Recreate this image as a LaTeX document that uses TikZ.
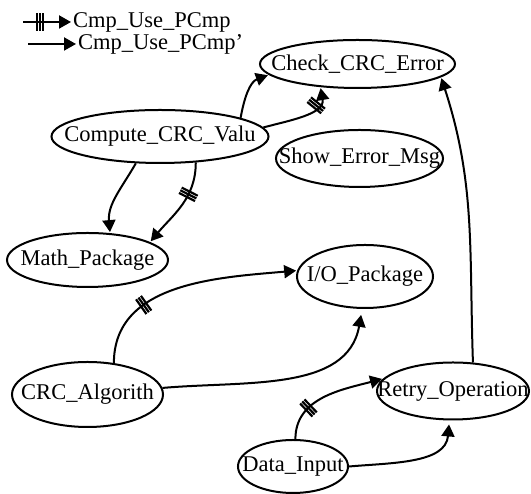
\documentclass[tikz,border=0pt]{standalone}
\usepackage{fontspec}
\setmainfont{Liberation Serif}
\usetikzlibrary{shapes.geometric,arrows.meta,decorations.markings}

\tikzset{
  module/.style={ellipse, draw, line width=2pt, inner sep=0pt},
  every label/.style={inner sep=0pt, font=\fontsize{22.5}{25}\selectfont},
  legend/.style={inner sep=1pt, font=\fontsize{22.5}{25}\selectfont},
  uses/.style={line width=2pt, -{Triangle[length=12pt,width=13pt]}, shorten >=1pt},
  ticked/.style={postaction={decorate, decoration={markings,
    mark=at position #1 with {\foreach \k in {-3,0,3} \draw[-, shorten >=0pt, line width=2.2pt] (\k pt,-9pt) -- (\k pt,9pt);}}}}
}

\begin{document}
\begin{tikzpicture}[x=1pt,y=1pt]

    \useasboundingbox (0,0) rectangle (531,494);

    % legend
    \coordinate (l1s) at (23,472);
    \node (l1) [legend, anchor=west] at (72,472) {Cmp\_Use\_PCmp};
    \coordinate (l2s) at (28,450);
    \node (l2) [legend, anchor=west] at (77,450) {Cmp\_Use\_PCmp'};
    \draw [uses, ticked=0.35] (l1s) -- (l1.west);
    \draw [uses] (l2s) -- (l2.west);

    % modules
    \node (chk) [module, minimum width=195, minimum height=48, label=center:Check\_CRC\_Error] at (357.5,430) {};
    \node (cv) [module, minimum width=217, minimum height=53, label=center:Compute\_CRC\_Valu] at (160,357.5) {};
    \node (sem) [module, minimum width=167, minimum height=57, label=center:Show\_Error\_Msg] at (359.5,335.5) {};
    \node (mp) [module, minimum width=161, minimum height=54, label=center:Math\_Package] at (87.5,234) {};
    \node (io) [module, minimum width=136, minimum height=63, label=center:I/O\_Package] at (365,217.5) {};
    \node (ca) [module, minimum width=151, minimum height=65, label=center:CRC\_Algorith] at (87.5,99.5) {};
    \node (ro) [module, minimum width=152, minimum height=57, label=center:Retry\_Operation] at (453,103) {};
    \node (di) [module, minimum width=110, minimum height=53, label=center:Data\_Input] at (293,27.5) {};

    % uses
    \draw [uses] (cv.13) to[out=80,in=200] (chk.187);
    \draw [uses, ticked=0.75] (cv.5) to[out=15,in=-80] (chk.212);
    \draw [uses] (cv.228) to[out=240,in=95] (mp.50);
    \draw [uses, ticked=0.35] (cv.-36) to[out=-90,in=50] (mp.16);
    \draw [uses, ticked=0.3] (ca.50) to[out=90,in=185] (io.175);
    \draw [uses, shorten >=6pt] (ca.5) to[out=5,in=-100] (io.-95);
    \draw [uses, ticked=0.3] (di.85) to[out=90,in=195] (ro.170);
    \draw [uses, shorten >=4pt] (di.0) to[out=5,in=-95] (ro.-97);
    \draw [uses] (ro.55) to[out=92,in=-72] (chk.-9);

\end{tikzpicture}
\end{document}
